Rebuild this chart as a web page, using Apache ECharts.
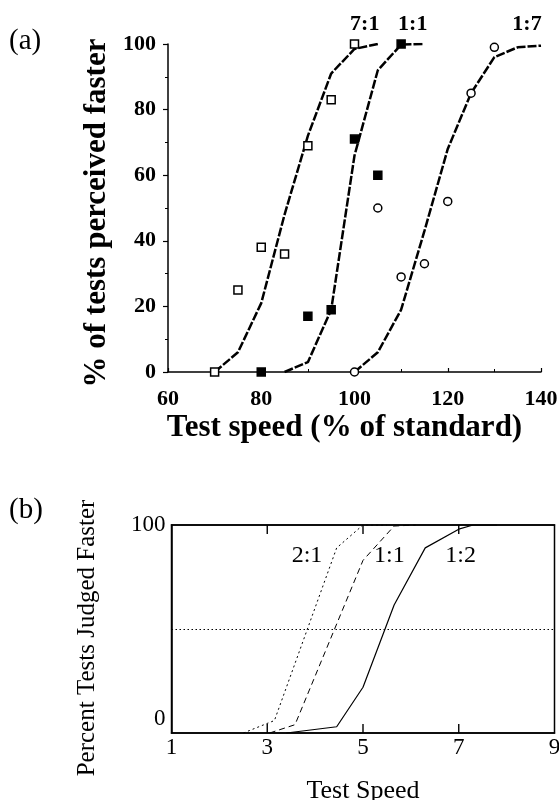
<!DOCTYPE html>
<html>
<head>
<meta charset="utf-8">
<script src="https://cdn.jsdelivr.net/npm/echarts@6/dist/echarts.min.js"></script>
<style>html,body{margin:0;padding:0;background:#fff}#c{width:559px;height:800px}</style>
</head>
<body>
<div id="c"></div>
<script>
// ---------- Panel (a): observed points ----------
const a71X = [70, 75, 80, 85, 90, 95, 100];
const a71Y = [0, 25, 38, 36, 69, 83, 100];
const a11X = [80, 90, 95, 100, 105, 110];
const a11Y = [0, 17, 19, 71, 60, 100];
const a17X = [100, 105, 110, 115, 120, 125, 130];
const a17Y = [0, 50, 29, 33, 52, 85, 99];
// ---------- Panel (a): fitted curves ----------
const fit71X = [70, 75, 80, 85, 90, 95, 100, 105];
const fit71Y = [0, 6, 21, 48, 72, 91, 98.5, 100];
const fit11X = [85, 90, 95, 100, 105, 110, 115];
const fit11Y = [0, 3, 19, 66, 92, 99.8, 100];
const fit17X = [100, 105, 110, 115, 120, 125, 130, 135, 140];
const fit17Y = [0, 6, 19, 43, 68, 85, 96, 99, 99.5];
// Curve labels (a)
const aLabelNames = ['7:1', '1:1', '1:7'];
const aLabelX = [102.2, 112.5, 137];
const aLabelY = [106, 106, 106];
// ---------- Panel (b): curves ----------
const b21X = [2.5, 3.15, 4.45, 5.0, 5.5];
const b21Y = [0, 6, 89, 100, 100];
const b11X = [3.05, 3.58, 5.0, 5.65, 6.1];
const b11Y = [0, 4, 83, 99.5, 100];
const b12X = [3.4, 4.45, 5.0, 5.65, 6.3, 7.0, 7.3, 7.8];
const b12Y = [0, 3, 22, 61.5, 89, 98, 100, 100];
const chanceLevel = 50;
const bLabelNames = ['2:1', '1:1', '1:2'];
const bLabelX = [3.83, 5.55, 7.04];
const bLabelY = [85, 85, 85];
// Tick ranges
const aXTicks = {min: 60, max: 140, interval: 20};
const aYTicks = {min: 0, max: 100, interval: 20};
const bXTicks = {min: 1, max: 9, interval: 2};
const bYTicks = {min: 0, max: 100, interval: 100};
const bInnerTicks = [3, 5, 7];

const zip = (xs, ys) => xs.map((x, i) => [x, ys[i]]);
const SERIF = '"Liberation Serif", "DejaVu Serif", serif';

const chart = echarts.init(document.getElementById('c'), null, {renderer: 'canvas'});

function fitLine(xs, ys) {
  return {type: 'line', xAxisIndex: 0, yAxisIndex: 0, data: zip(xs, ys), symbol: 'none',
    lineStyle: {color: '#000', width: 2.5, type: [9, 2]}, z: 2, animation: false, silent: true};
}
function pts(xs, ys, symbol, fill) {
  return {type: 'scatter', xAxisIndex: 0, yAxisIndex: 0, data: zip(xs, ys), symbol: symbol,
    symbolSize: 8, itemStyle: {color: fill, borderColor: '#000', borderWidth: 1.5, opacity: 1},
    z: 5, animation: false, silent: true};
}
function labelSeries(names, xs, ys, xi, yi, font) {
  return {type: 'scatter', xAxisIndex: xi, yAxisIndex: yi, symbolSize: 0, clip: false,
    itemStyle: {opacity: 1, color: '#000'},
    data: names.map((n, i) => ({name: n, value: [xs[i], ys[i]]})),
    label: {show: true, position: 'inside', formatter: p => p.name, color: '#000', opacity: 1, ...font},
    z: 6, animation: false, silent: true};
}
// inner tick marks of the boxed panel (b), drawn in axis units (length ~4% of the y range)
const tickLen = 4.3;
const tickSeries = [];
bInnerTicks.forEach(v => {
  [[bYTicks.min, bYTicks.min + tickLen], [bYTicks.max - tickLen, bYTicks.max]].forEach(seg => {
    tickSeries.push({type: 'line', xAxisIndex: 1, yAxisIndex: 1, symbol: 'none', clip: false,
      data: [[v, seg[0]], [v, seg[1]]], lineStyle: {color: '#000', width: 1.4, type: 'solid'},
      z: 7, animation: false, silent: true});
  });
});

const option = {
  animation: false,
  backgroundColor: '#fff',
  grid: [
    {left: 168, top: 44, width: 373, height: 328, outerBoundsMode: 'none', containLabel: false},
    {left: 171.5, top: 525, width: 383, height: 208, outerBoundsMode: 'none', containLabel: false,
      show: true, borderColor: '#000', borderWidth: 1.5, backgroundColor: 'transparent'}
  ],
  graphic: [
    {type: 'text', left: 9, top: 27, style: {text: '(a)', font: '29px ' + SERIF, fill: '#000'}},
    {type: 'text', left: 9, top: 496, style: {text: '(b)', font: '29px ' + SERIF, fill: '#000'}}
  ],
  xAxis: [
    {gridIndex: 0, type: 'value', ...aXTicks,
      axisLine: {onZero: false, lineStyle: {color: '#000', width: 1.5}},
      axisTick: {show: true, inside: true, length: 4, lineStyle: {color: '#000', width: 1.2}},
      minorTick: {show: true, splitNumber: 2, length: 3, lineStyle: {color: '#000', width: 1}},
      splitLine: {show: false},
      axisLabel: {color: '#000', fontFamily: SERIF, fontWeight: 'bold', fontSize: 22, margin: 16},
      name: 'Test speed (% of standard)', nameLocation: 'middle', nameGap: 40,
      nameTextStyle: {color: '#000', fontFamily: SERIF, fontWeight: 'bold', fontSize: 31, padding: [0, 20, 0, 0]}},
    {gridIndex: 1, type: 'value', ...bXTicks, position: 'bottom',
      axisLine: {onZero: false, lineStyle: {color: '#000', width: 1.5}},
      axisTick: {show: false},
      splitLine: {show: false},
      axisLabel: {color: '#000', fontFamily: SERIF, fontSize: 23, margin: 3},
      name: 'Test Speed', nameLocation: 'middle', nameGap: 45,
      nameTextStyle: {color: '#000', fontFamily: SERIF, fontSize: 26}},
    {gridIndex: 1, type: 'value', ...bXTicks, position: 'top',
      axisLine: {show: true, onZero: false, lineStyle: {color: '#000', width: 1.5}},
      axisTick: {show: false},
      splitLine: {show: false}, axisLabel: {show: false}}
  ],
  yAxis: [
    {gridIndex: 0, type: 'value', ...aYTicks,
      axisLine: {show: true, onZero: false, lineStyle: {color: '#000', width: 1.5}},
      axisTick: {show: true, length: 5, lineStyle: {color: '#000', width: 1.2}},
      minorTick: {show: true, splitNumber: 2, length: 3, lineStyle: {color: '#000', width: 1}},
      splitLine: {show: false},
      axisLabel: {color: '#000', fontFamily: SERIF, fontWeight: 'bold', fontSize: 22, margin: 12},
      name: '% of tests perceived faster', nameLocation: 'middle', nameGap: 52,
      nameTextStyle: {color: '#000', fontFamily: SERIF, fontWeight: 'bold', fontSize: 31, padding: [0, 10, 0, 0]}},
    {gridIndex: 1, type: 'value', ...bYTicks,
      axisLine: {show: true, onZero: false, lineStyle: {color: '#000', width: 1.5}},
      axisTick: {show: false},
      splitLine: {show: false},
      axisLabel: {color: '#000', fontFamily: SERIF, fontSize: 23, margin: 6,
        formatter: v => v === 0 ? '{z|0}' : '{n|' + v + '}',
        rich: {z: {fontFamily: SERIF, fontSize: 23, color: '#000', padding: [0, 0, 28, 0]},
               n: {fontFamily: SERIF, fontSize: 23, color: '#000'}}},
      name: 'Percent Tests Judged Faster', nameLocation: 'middle', nameGap: 72,
      nameTextStyle: {color: '#000', fontFamily: SERIF, fontSize: 25, padding: [0, 18, 0, 0]}}
  ],
  series: [
    fitLine(fit71X, fit71Y),
    fitLine(fit11X, fit11Y),
    fitLine(fit17X, fit17Y),
    pts(a71X, a71Y, 'rect', '#fff'),
    pts(a11X, a11Y, 'rect', '#000'),
    pts(a17X, a17Y, 'circle', '#fff'),
    labelSeries(aLabelNames, aLabelX, aLabelY, 0, 0, {fontFamily: SERIF, fontWeight: 'bold', fontSize: 22}),
    {type: 'line', xAxisIndex: 1, yAxisIndex: 1, data: zip(b21X, b21Y), symbol: 'none',
      lineStyle: {color: '#000', width: 1, type: [2, 3]}, animation: false, silent: true,
      markLine: {silent: true, symbol: 'none', label: {show: false},
        lineStyle: {color: '#000', width: 1, type: [1.5, 2.5]}, data: [{yAxis: chanceLevel}]}},
    {type: 'line', xAxisIndex: 1, yAxisIndex: 1, data: zip(b11X, b11Y), symbol: 'none',
      lineStyle: {color: '#000', width: 1, type: [6, 4]}, animation: false, silent: true},
    {type: 'line', xAxisIndex: 1, yAxisIndex: 1, data: zip(b12X, b12Y), symbol: 'none',
      lineStyle: {color: '#000', width: 1.2, type: 'solid'}, animation: false, silent: true},
    labelSeries(bLabelNames, bLabelX, bLabelY, 1, 1, {fontFamily: SERIF, fontSize: 24}),
    ...tickSeries
  ]
};
chart.setOption(option);
</script>
</body>
</html>
